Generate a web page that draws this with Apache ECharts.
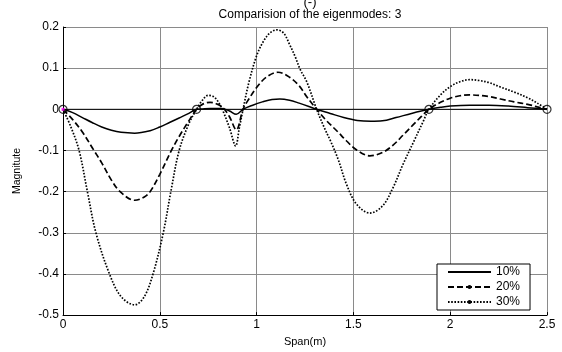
<!DOCTYPE html>
<html>
<head>
<meta charset="utf-8">
<script src="https://cdn.jsdelivr.net/npm/echarts@6/dist/echarts.min.js"></script>
<style>
  html, body { margin: 0; padding: 0; background: #fff; }
  #chart { width: 562px; height: 352px; }
</style>
</head>
<body>
<div id="chart"></div>
<script>
// Mode shape 3 for three damage levels: [span (m), magnitude]
const mode10 = [
  [0, 0], [0.05, -0.008], [0.1, -0.02], [0.15, -0.032], [0.2, -0.043], [0.25, -0.051],
  [0.3, -0.056], [0.37, -0.058], [0.45, -0.052], [0.5, -0.043], [0.55, -0.032],
  [0.6, -0.021], [0.65, -0.01], [0.69, 0], [0.72, 0.001], [0.76, 0.002], [0.82, 0.002],
  [0.86, -0.004], [0.895, -0.012], [0.93, 0], [0.98, 0.01], [1.03, 0.018], [1.08, 0.024],
  [1.12, 0.025], [1.17, 0.022], [1.22, 0.015], [1.27, 0.007], [1.31, 0], [1.38, -0.01],
  [1.45, -0.02], [1.52, -0.027], [1.59, -0.029], [1.65, -0.028], [1.72, -0.02],
  [1.8, -0.01], [1.89, 0], [1.95, 0.005], [2.0, 0.008], [2.1, 0.01], [2.2, 0.01],
  [2.3, 0.008], [2.4, 0.004], [2.5, 0]
];
const mode20 = [
  [0, 0], [0.05, -0.025], [0.1, -0.055], [0.16, -0.1], [0.2, -0.13], [0.25, -0.172],
  [0.295, -0.2], [0.37, -0.221], [0.42, -0.213], [0.45, -0.2], [0.5, -0.158], [0.56, -0.1],
  [0.6, -0.066], [0.65, -0.028], [0.69, 0], [0.72, 0.012], [0.76, 0.017], [0.8, 0.012],
  [0.83, 0.002], [0.86, -0.018], [0.895, -0.05], [0.93, 0], [0.96, 0.025], [1.0, 0.053],
  [1.05, 0.078], [1.11, 0.09], [1.17, 0.078], [1.22, 0.057], [1.26, 0.03], [1.31, 0],
  [1.36, -0.027], [1.42, -0.055], [1.465, -0.077], [1.517, -0.099], [1.585, -0.113],
  [1.65, -0.105], [1.705, -0.087], [1.756, -0.063], [1.808, -0.038], [1.85, -0.018],
  [1.89, 0], [1.95, 0.017], [2.0, 0.027], [2.05, 0.033], [2.1, 0.035], [2.2, 0.031],
  [2.26, 0.025], [2.33, 0.018], [2.4, 0.012], [2.45, 0.006], [2.5, 0]
];
const mode30 = [
  [0, 0], [0.04, -0.042], [0.083, -0.1], [0.126, -0.2], [0.17, -0.3], [0.24, -0.4],
  [0.3, -0.455], [0.37, -0.475], [0.42, -0.455], [0.465, -0.4],
  [0.518, -0.3], [0.557, -0.2], [0.6, -0.1], [0.65, -0.035], [0.69, 0], [0.72, 0.022],
  [0.75, 0.034], [0.78, 0.03], [0.81, 0.012], [0.83, -0.008], [0.86, -0.045],
  [0.892, -0.089], [0.91, -0.047], [0.93, 0], [0.96, 0.065], [1.0, 0.13], [1.035, 0.165],
  [1.07, 0.186], [1.105, 0.193], [1.14, 0.185], [1.17, 0.158], [1.2, 0.127],
  [1.225, 0.097], [1.26, 0.066], [1.31, 0], [1.35, -0.045], [1.38, -0.075], [1.42, -0.12],
  [1.465, -0.183], [1.517, -0.231], [1.585, -0.252], [1.65, -0.235], [1.705, -0.19],
  [1.755, -0.135], [1.81, -0.08], [1.86, -0.03], [1.89, 0], [1.95, 0.035], [2.0, 0.055],
  [2.05, 0.067], [2.1, 0.072], [2.15, 0.07], [2.2, 0.065], [2.26, 0.054], [2.33, 0.042],
  [2.4, 0.028], [2.45, 0.015], [2.5, 0]
];
// Support / node positions marked on the zero line
const nodeSpans = [0, 0.69, 1.89, 2.5];
const seriesNames = ['10%', '20%', '30%'];
const xTickLabels = ['0', '0.5', '1', '1.5', '2', '2.5'];
const yTickLabels = ['-0.5', '-0.4', '-0.3', '-0.2', '-0.1', '0', '0.1', '0.2'];

const FONT = 'Liberation Sans';
const chart = echarts.init(document.getElementById('chart'), null, { renderer: 'canvas' });

const option = {
  backgroundColor: '#fff',
  animation: false,
  title: [
    { text: '(-)', left: 305, top: -9, textAlign: 'center',
      textStyle: { fontFamily: FONT, fontSize: 13, fontWeight: 'normal', color: '#000' } },
    { text: 'Comparision of the eigenmodes: 3', left: 305, top: 4, textAlign: 'center',
      textStyle: { fontFamily: FONT, fontSize: 12, fontWeight: 'normal', color: '#000' } }
  ],
  grid: { left: 63, right: 15, top: 27, bottom: 33, show: false },
  legend: {
    data: [
      { name: seriesNames[0], itemStyle: { opacity: 0 } },
      { name: seriesNames[1] },
      { name: seriesNames[2] }
    ],
    orient: 'vertical',
    left: 437, top: 264,
    padding: [2, 10, 2, 10],
    itemWidth: 43, itemHeight: 5, itemGap: 3,
    backgroundColor: '#fff', borderColor: '#000', borderWidth: 1,
    textStyle: { fontFamily: FONT, fontSize: 12, color: '#000', lineHeight: 12 }
  },
  xAxis: {
    type: 'value', min: 0, max: 2.5, interval: 0.5,
    name: 'Span(m)', nameLocation: 'middle', nameGap: 20,
    nameTextStyle: { fontFamily: FONT, fontSize: 11, color: '#000' },
    axisLine: { show: true, onZero: false, lineStyle: { color: '#000', width: 1 } },
    axisTick: { show: true, inside: true, length: 3, lineStyle: { color: '#000' } },
    axisLabel: { fontFamily: FONT, fontSize: 12, color: '#000', margin: 4,
      formatter: v => xTickLabels[Math.round(v / 0.5)] },
    splitLine: { show: true, lineStyle: { color: '#8a8a8a', width: 1 } }
  },
  yAxis: {
    type: 'value', min: -0.5, max: 0.2, interval: 0.1,
    name: 'Magnitute', nameLocation: 'middle', nameGap: 40, nameRotate: 90,
    nameTextStyle: { fontFamily: FONT, fontSize: 10.5, color: '#000' },
    axisLine: { show: true, onZero: false, lineStyle: { color: '#000', width: 1 } },
    axisTick: { show: true, inside: true, length: 3, lineStyle: { color: '#000' } },
    axisLabel: { fontFamily: FONT, fontSize: 12, color: '#000', margin: 4,
      formatter: v => yTickLabels[Math.round((v + 0.5) / 0.1)] },
    splitLine: { show: true, lineStyle: { color: '#8a8a8a', width: 1 } }
  },
  series: [
    {
      name: 'zero', type: 'line', data: [[0, 0], [2.5, 0]], symbol: 'none', silent: true,
      lineStyle: { color: '#000', width: 1 }, z: 1
    },
    {
      name: seriesNames[0], type: 'line', data: mode10, smooth: 0.35, symbol: 'none',
      lineStyle: { color: '#000', width: 1.5, type: 'solid' }, itemStyle: { color: '#000' }, z: 3
    },
    {
      name: seriesNames[1], type: 'line', data: mode20, smooth: 0.35,
      symbol: 'circle', symbolSize: 4, showSymbol: false,
      lineStyle: { color: '#000', width: 1.7, type: [6, 3] }, itemStyle: { color: '#000' }, z: 3
    },
    {
      name: seriesNames[2], type: 'line', data: mode30, smooth: 0.35,
      symbol: 'circle', symbolSize: 4, showSymbol: false,
      lineStyle: { color: '#000', width: 1.7, type: [1.6, 1.6] }, itemStyle: { color: '#000' }, z: 3
    },
    {
      name: 'nodes', type: 'scatter', data: nodeSpans.map(s => [s, 0]),
      symbol: 'circle', symbolSize: 8, silent: true,
      itemStyle: { color: 'rgba(0,0,0,0)', borderColor: '#000', borderWidth: 1.2 }, z: 4
    },
    {
      name: 'origin', type: 'scatter', data: [[0, 0]],
      symbol: 'rect', symbolSize: 3, silent: true,
      itemStyle: { color: '#ff00ff' }, z: 5
    }
  ]
};
chart.setOption(option);
</script>
</body>
</html>
